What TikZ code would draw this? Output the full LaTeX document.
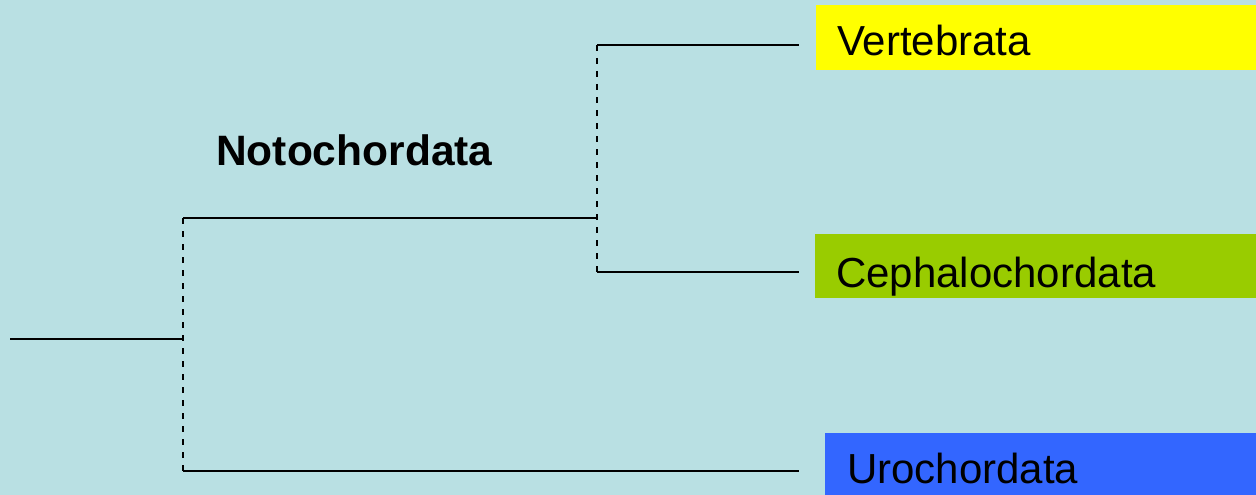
\documentclass[tikz,border=0pt]{standalone}
\usepackage{fontspec}
\setmainfont{Liberation Sans}
\definecolor{bgcyan}{RGB}{185,224,227}
\definecolor{vertcol}{RGB}{255,255,0}
\definecolor{cephcol}{RGB}{153,204,0}
\definecolor{urocol}{RGB}{51,102,255}
\begin{document}
\begin{tikzpicture}[x=1pt,y=-1pt,
  branch/.style={line width=2pt,black},
  joint/.style={line width=2pt,black,dash pattern=on 6pt off 7pt},
  taxonbox/.style={rectangle,inner sep=0pt,anchor=north west},
  taxon/.style={inner sep=0pt,anchor=base west,font=\fontsize{42}{48}\selectfont},
  clade/.style={inner sep=0pt,anchor=base west,font=\fontsize{42.5}{48}\selectfont\bfseries}]
  % canvas
  \fill[bgcyan] (0,0) rectangle (1256,495);
  \useasboundingbox (0,0) rectangle (1256,495);

  % coloured taxon boxes
  \node[taxonbox,fill=vertcol,minimum width=440pt,minimum height=65pt] (vertbox) at (816,5) {};
  \node[taxonbox,fill=cephcol,minimum width=441pt,minimum height=64pt] (cephbox) at (815,234) {};
  \node[taxonbox,fill=urocol,minimum width=431pt,minimum height=62pt] (urobox) at (825,433) {};

  % taxon names
  \node[taxon] (vert) at (837,56) {Vertebrata};
  \node[taxon] (ceph) at (836,287) {Cephalochordata};
  \node[taxon] (uro) at (847,483) {Urochordata};
  \node[clade] (noto) at (216,165) {Notochordata};

  % tree points
  \coordinate (rootstart) at (10,338.5);
  \coordinate (rootjoin) at (183,338.5);
  \coordinate (notojoinbottom) at (183,471);
  \coordinate (notojointop) at (183,218);
  \coordinate (notonode) at (597,218);
  \coordinate (vertjoin) at (597,45);
  \coordinate (cephjoin) at (597,272);
  \coordinate (vertend) at (799,45);
  \coordinate (cephend) at (799,272);
  \coordinate (uroend) at (799,471);

  % branches
  \draw[branch] (rootstart) -- (rootjoin);
  \draw[branch] (notojointop) -- (notonode);
  \draw[branch] (notojoinbottom) -- (uroend);
  \draw[branch] (vertjoin) -- (vertend);
  \draw[branch] (cephjoin) -- (cephend);

  % dashed joints
  \draw[joint] (notojointop) -- (notojoinbottom);
  \draw[joint] (vertjoin) -- (cephjoin);
\end{tikzpicture}
\end{document}
